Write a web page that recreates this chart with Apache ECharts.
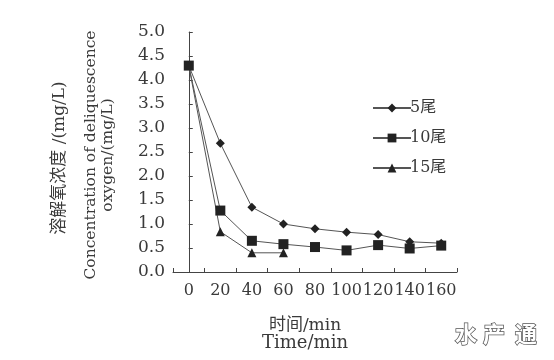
<!DOCTYPE html>
<html>
<head>
<meta charset="utf-8">
<script src="https://cdn.jsdelivr.net/npm/echarts@6/dist/echarts.min.js"></script>
<style>html,body{margin:0;padding:0;background:#fff;}#c{width:554px;height:360px;}</style>
</head>
<body>
<div id="c"></div>
<script>
const times = [0, 20, 40, 60, 80, 100, 120, 140, 160];
const fish5 = [4.3, 2.68, 1.35, 1.0, 0.9, 0.83, 0.78, 0.63, 0.6];
const fish10 = [4.3, 1.28, 0.65, 0.58, 0.52, 0.45, 0.56, 0.49, 0.55];
const fish15 = [4.3, 0.84, 0.4, 0.4];
const seriesNames = ['5尾', '10尾', '15尾'];
const xLabelValues = [0, 20, 40, 60, 80, 100, 120, 140, 160];
const xTickValues = [-10, 10, 30, 50, 70, 90, 110, 130, 150, 170];

const serif = '"DejaVu Serif", "Noto Sans CJK SC", serif';
const txt = '#3a3a3a';
function pairs(vals) { return vals.map((v, i) => [times[i], v]); }

const chart = echarts.init(document.getElementById('c'));
chart.setOption({
  backgroundColor: '#ffffff',
  animation: false,
  grid: { left: 173, right: 97, top: 32, bottom: 88 },
  xAxis: {
    type: 'value', min: -10, max: 170,
    splitLine: { show: false },
    axisLine: { lineStyle: { color: '#444', width: 1 } },
    axisTick: { inside: true, length: 4, lineStyle: { color: '#444' }, customValues: xTickValues },
    axisLabel: { customValues: xLabelValues, color: txt, fontFamily: serif, fontSize: 16, margin: 11 }
  },
  yAxis: {
    type: 'value', min: 0, max: 5, interval: 0.5,
    splitLine: { show: false },
    axisLine: { show: true, lineStyle: { color: '#444', width: 1 } },
    axisTick: { show: true, inside: true, length: 4, lineStyle: { color: '#444' } },
    axisLabel: { color: txt, fontFamily: serif, fontSize: 17, margin: 8, formatter: v => v.toFixed(1) }
  },
  legend: {
    orient: 'vertical', left: 367, top: 95,
    itemWidth: 38, itemHeight: 11, itemGap: 14,
    textStyle: { color: txt, fontFamily: serif, fontSize: 16, padding: [0, 0, 0, -6] },
    data: seriesNames
  },
  series: [
    { name: seriesNames[0], type: 'line', data: pairs(fish5), symbol: 'diamond', symbolSize: 9,
      lineStyle: { color: '#555', width: 1 }, itemStyle: { color: '#222' } },
    { name: seriesNames[1], type: 'line', data: pairs(fish10), symbol: 'rect', symbolSize: 10,
      lineStyle: { color: '#555', width: 1 }, itemStyle: { color: '#222' } },
    { name: seriesNames[2], type: 'line', data: pairs(fish15), symbol: 'triangle', symbolSize: 9,
      lineStyle: { color: '#555', width: 1 }, itemStyle: { color: '#222' } }
  ],
  graphic: [
    { type: 'text', x: 305, y: 326, style: { text: '时间/min', fill: txt, font: '17px ' + serif, align: 'center', verticalAlign: 'middle' } },
    { type: 'text', x: 305, y: 343, style: { text: 'Time/min', fill: txt, font: '18px ' + serif, align: 'center', verticalAlign: 'middle' } },
    { type: 'text', x: 60, y: 158, rotation: Math.PI / 2, style: { text: '溶解氧浓度 /(mg/L)', fill: txt, font: '17px ' + serif, align: 'center', verticalAlign: 'middle' } },
    { type: 'text', x: 91, y: 155, rotation: Math.PI / 2, style: { text: 'Concentration of deliquescence', fill: txt, font: '15.5px ' + serif, align: 'center', verticalAlign: 'middle' } },
    { type: 'text', x: 108, y: 155, rotation: Math.PI / 2, style: { text: 'oxygen/(mg/L)', fill: txt, font: '15.5px ' + serif, align: 'center', verticalAlign: 'middle' } },
    { type: 'text', x: 466, y: 334, style: { text: '水', fill: '#fff', stroke: '#555', lineWidth: 1.5, font: 'bold 22px "Noto Sans CJK SC"', align: 'center', verticalAlign: 'middle' } },
    { type: 'text', x: 494, y: 334, style: { text: '产', fill: '#fff', stroke: '#555', lineWidth: 1.5, font: 'bold 22px "Noto Sans CJK SC"', align: 'center', verticalAlign: 'middle' } },
    { type: 'text', x: 526, y: 334, style: { text: '通', fill: '#fff', stroke: '#555', lineWidth: 1.5, font: 'bold 22px "Noto Sans CJK SC"', align: 'center', verticalAlign: 'middle' } }
  ]
});
</script>
</body>
</html>
